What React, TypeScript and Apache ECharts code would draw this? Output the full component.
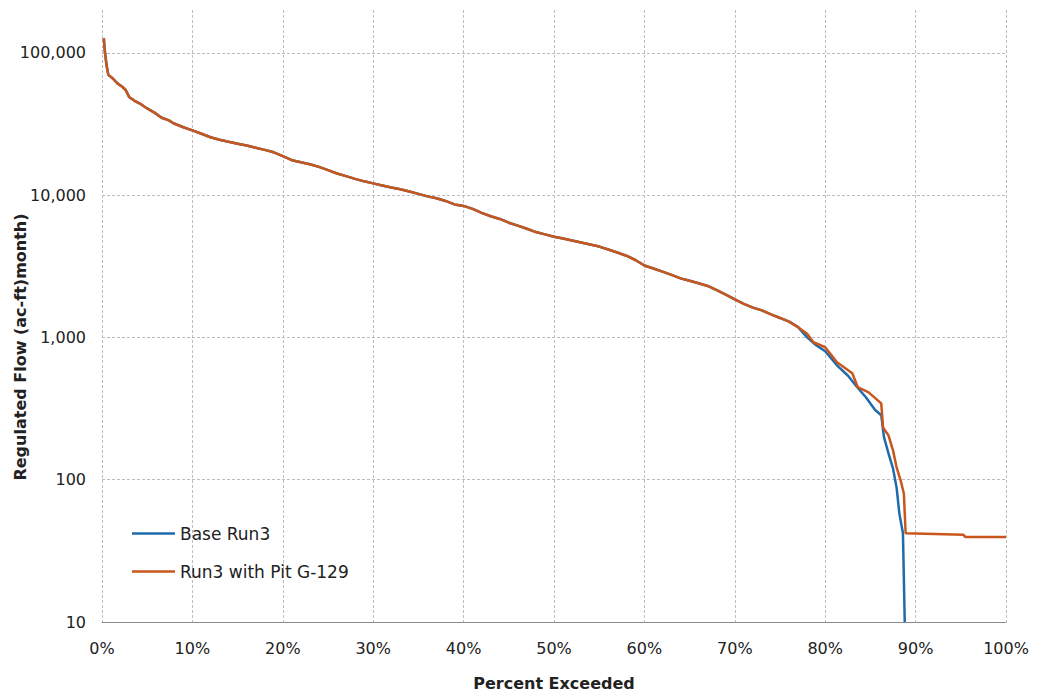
import React, { useEffect, useRef } from "react";
import * as echarts from "echarts";

// Shared part of the duration curve (percent exceeded, flow in ac-ft/month)
const sharedPct = [
  0.2, 0.3, 0.5, 0.7, 1.2, 1.7, 2.2, 2.6, 3.0, 3.6, 4.2, 4.9, 5.8, 6.6, 7.4, 7.9, 9.0, 10,
  11, 12, 13, 14, 15, 16, 17, 18, 19, 20, 21, 22, 23, 24, 25, 26, 27, 28, 29, 30,
  31, 32, 33, 34, 35, 36, 37, 38, 39, 40, 41, 42, 43, 44, 45, 46, 47, 48, 49, 50,
  51, 52, 53, 54, 55, 56, 57, 58, 59, 60, 61, 62, 63, 64, 65, 66, 67, 68, 69, 70,
  71, 72, 73, 74, 75, 76, 77,
];
const sharedFlow = [
  127000, 105000, 82000, 70000, 66000, 61000, 58000, 55000, 49000, 46000, 44000, 41000, 38000, 35000, 33500, 32000, 30000, 28500,
  27000, 25500, 24500, 23700, 23000, 22300, 21500, 20800, 20000, 18800, 17600, 17000, 16500, 15800, 15000, 14200, 13600, 13000, 12500, 12100,
  11700, 11300, 11000, 10600, 10200, 9800, 9500, 9100, 8600, 8400, 8000, 7500, 7100, 6800, 6400, 6100, 5800, 5500, 5300, 5100,
  4950, 4800, 4650, 4500, 4350, 4150, 3950, 3750, 3500, 3200, 3050, 2900, 2750, 2600, 2500, 2400, 2300, 2150, 2000, 1850,
  1720, 1620, 1550, 1450, 1370, 1290, 1180,
];

// Base Run3 tail
const basePct = [78, 79, 80, 81.3, 82.5, 83.5, 84.5, 85.5, 86.2, 86.5, 87.0, 87.5, 87.9, 88.2, 88.6, 88.8];
const baseFlow = [1000, 880, 800, 637, 540, 450, 380, 310, 284, 199, 153, 120, 88, 58, 42, 10];

// Run3 with Pit G-129 tail
const pitPct = [78, 78.7, 80, 81.3, 83.0, 83.6, 84.8, 86.2, 86.4, 87.0, 87.5, 87.9, 88.4, 88.7, 88.9, 95.3, 95.5, 100];
const pitFlow = [1060, 925, 853, 668, 560, 447, 411, 344, 233, 205, 161, 122, 96, 80, 42, 41, 39.5, 39.5];

const seriesNames = ["Base Run3", "Run3 with Pit G-129"];
const xTicks = [0, 10, 20, 30, 40, 50, 60, 70, 80, 90, 100];

const FONT = "'DejaVu Sans', sans-serif";

function pairs(p: number[], v: number[]) {
  return p.map((x, i) => [x, v[i]]);
}

export default function App() {
  const ref = useRef<HTMLDivElement>(null);
  useEffect(() => {
    if (!ref.current) return;
    const chart = echarts.init(ref.current, null, { renderer: "svg" });
    const grid = "#bdbdbd";
    const blue = "#1f6aab";
    const orange = "#c9561a";
    const baseData = pairs(sharedPct, sharedFlow).concat(pairs(basePct, baseFlow));
    const pitData = pairs(sharedPct, sharedFlow).concat(pairs(pitPct, pitFlow));
    chart.setOption({
      animation: false,
      backgroundColor: "#ffffff",
      grid: { left: 102, right: 36, top: 10, bottom: 74 },
      legend: {
        orient: "vertical",
        left: 127,
        top: 520,
        icon: "rect",
        itemWidth: 43,
        itemHeight: 2.5,
        itemGap: 21,
        textStyle: { fontFamily: FONT, fontSize: 17, color: "#222" },
        data: seriesNames,
      },
      xAxis: {
        type: "value",
        min: xTicks[0],
        max: xTicks[xTicks.length - 1],
        interval: 10,
        name: "Percent Exceeded",
        nameLocation: "middle",
        nameGap: 53,
        nameTextStyle: { fontFamily: FONT, fontSize: 16, fontWeight: "bold", color: "#222" },
        axisLine: { show: true, lineStyle: { color: "#8a8a8a", width: 1 } },
        axisTick: { show: false },
        axisLabel: {
          formatter: (v: number) => v + "%",
          fontFamily: FONT,
          fontSize: 16,
          color: "#222",
          margin: 18,
        },
        splitLine: { show: true, lineStyle: { color: grid, width: 1, type: [3, 2] } },
      },
      yAxis: {
        type: "log",
        logBase: 10,
        min: 10,
        max: 200000,
        axisLine: { show: false },
        axisTick: { show: false },
        axisLabel: {
          formatter: (v: number) => Math.round(v).toLocaleString("en-US"),
          fontFamily: FONT,
          fontSize: 16,
          color: "#222",
          margin: 16,
          showMaxLabel: false,
        },
        splitLine: {
          show: true,
          lineStyle: {
            color: [grid, grid, grid, grid, grid, "rgba(0,0,0,0)"],
            width: 1,
            type: [3, 2],
          },
        },
      },
      graphic: [
        {
          type: "text",
          x: 20,
          y: 347,
          rotation: Math.PI / 2,
          style: {
            text: "Regulated Flow (ac-ft)month)",
            fontFamily: FONT,
            fontSize: 16,
            fontWeight: "bold",
            fill: "#222",
            textAlign: "center",
            textVerticalAlign: "middle",
          },
        },
      ],
      series: [
        {
          name: seriesNames[0],
          type: "line",
          data: baseData,
          symbol: "none",
          lineStyle: { color: blue, width: 2.5 },
          itemStyle: { color: blue },
        },
        {
          name: seriesNames[1],
          type: "line",
          data: pitData,
          symbol: "none",
          lineStyle: { color: orange, width: 2.5 },
          itemStyle: { color: orange },
        },
      ],
    });
    return () => chart.dispose();
  }, []);
  return <div ref={ref} style={{ width: 1042, height: 696, position: "absolute", left: 0, top: 0 }} />;
}
